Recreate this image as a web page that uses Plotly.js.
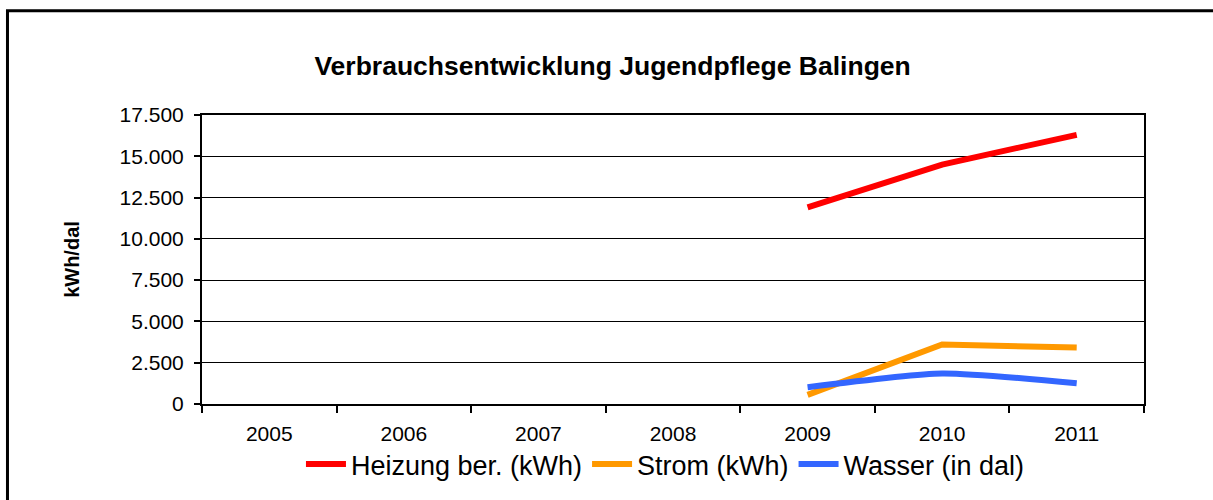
<!DOCTYPE html>
<html>
<head>
<meta charset="utf-8">
<script src="https://cdn.plot.ly/plotly-3.0.1.min.js"></script>
<style>
  body { margin: 0; background: #fff; }
  #chart { width: 1213px; height: 500px; }
</style>
</head>
<body>
<div id="chart"></div>
<script>
// Verbrauchsdaten Jugendpflege Balingen (Werte aus dem Bild geschaetzt)
var jahre = ['2005', '2006', '2007', '2008', '2009', '2010', '2011'];

var heizung = [null, null, null, null, 11900, 14500, 16300];
var strom   = [null, null, null, null, 550, 3600, 3420];
var wasser  = [null, null, null, null, 1020, 1850, 1250];

var namen = ['Heizung ber. (kWh)', 'Strom (kWh)', 'Wasser (in dal)'];
var farben = ['#ff0000', '#ff9900', '#3366ff'];

var schrift = 'Arial, "Liberation Sans", sans-serif';

var dati = [
    {
        type: 'scatter', mode: 'lines', name: namen[0],
        x: jahre, y: heizung,
        line: { color: farben[0], width: 6 }
    },
    {
        type: 'scatter', mode: 'lines', name: namen[1],
        x: jahre, y: strom,
        line: { color: farben[1], width: 6 }
    },
    {
        type: 'scatter', mode: 'lines', name: namen[2],
        x: jahre, y: wasser,
        line: { color: farben[2], width: 6, shape: 'spline', smoothing: 0.6 }
    }
];

var layout = {
    width: 1213,
    height: 500,
    margin: { l: 202, r: 69, t: 115, b: 95 },
    paper_bgcolor: '#fff',
    plot_bgcolor: '#fff',
    separators: ',.',
    showlegend: true,
    font: { family: schrift, color: '#000' },
    title: {
        text: '<b>Verbrauchsentwicklung Jugendpflege Balingen</b>',
        font: { size: 26.5, color: '#000', family: schrift },
        xref: 'container', x: 0.505, xanchor: 'center',
        yref: 'container', y: 0.868, yanchor: 'middle'
    },
    xaxis: {
        type: 'category',
        categoryorder: 'array',
        categoryarray: jahre,
        range: [-0.5, 6.5],
        tickson: 'boundaries',
        ticks: 'outside',
        ticklen: 7,
        tickwidth: 2,
        tickcolor: '#000',
        showline: true,
        linecolor: '#000',
        linewidth: 2,
        mirror: true,
        showgrid: false,
        zeroline: false,
        ticklabelstandoff: 10,
        tickfont: { size: 21, color: '#000' },
        fixedrange: true
    },
    yaxis: {
        range: [0, 17500],
        dtick: 2500,
        tick0: 0,
        tickformat: ',d',
        ticks: 'outside',
        ticklen: 6,
        tickwidth: 2,
        tickcolor: '#000',
        showline: true,
        linecolor: '#000',
        linewidth: 2,
        mirror: true,
        showgrid: true,
        gridcolor: '#000',
        gridwidth: 1,
        zeroline: false,
        ticklabelstandoff: 6,
        tickfont: { size: 21, color: '#000' },
        title: {
            text: '<b>kWh/dal</b>',
            font: { size: 20, color: '#000' },
            standoff: 35
        },
        fixedrange: true
    },
    legend: {
        orientation: 'h',
        xref: 'paper', x: 0.492, xanchor: 'center',
        yref: 'paper', y: -0.205, yanchor: 'middle',
        font: { size: 27, color: '#000' },
        bgcolor: 'rgba(0,0,0,0)',
        itemwidth: 40,
        tracegroupgap: 0
    },
    shapes: [
        {
            type: 'rect', xref: 'paper', yref: 'paper',
            x0: -0.2065, x1: 1.5, y0: -0.6, y1: 1.3603,
            line: { color: '#000', width: 3 },
            fillcolor: 'rgba(0,0,0,0)',
            layer: 'below'
        }
    ]
};

Plotly.newPlot('chart', dati, layout, { displayModeBar: false, staticPlot: true });
</script>
</body>
</html>
